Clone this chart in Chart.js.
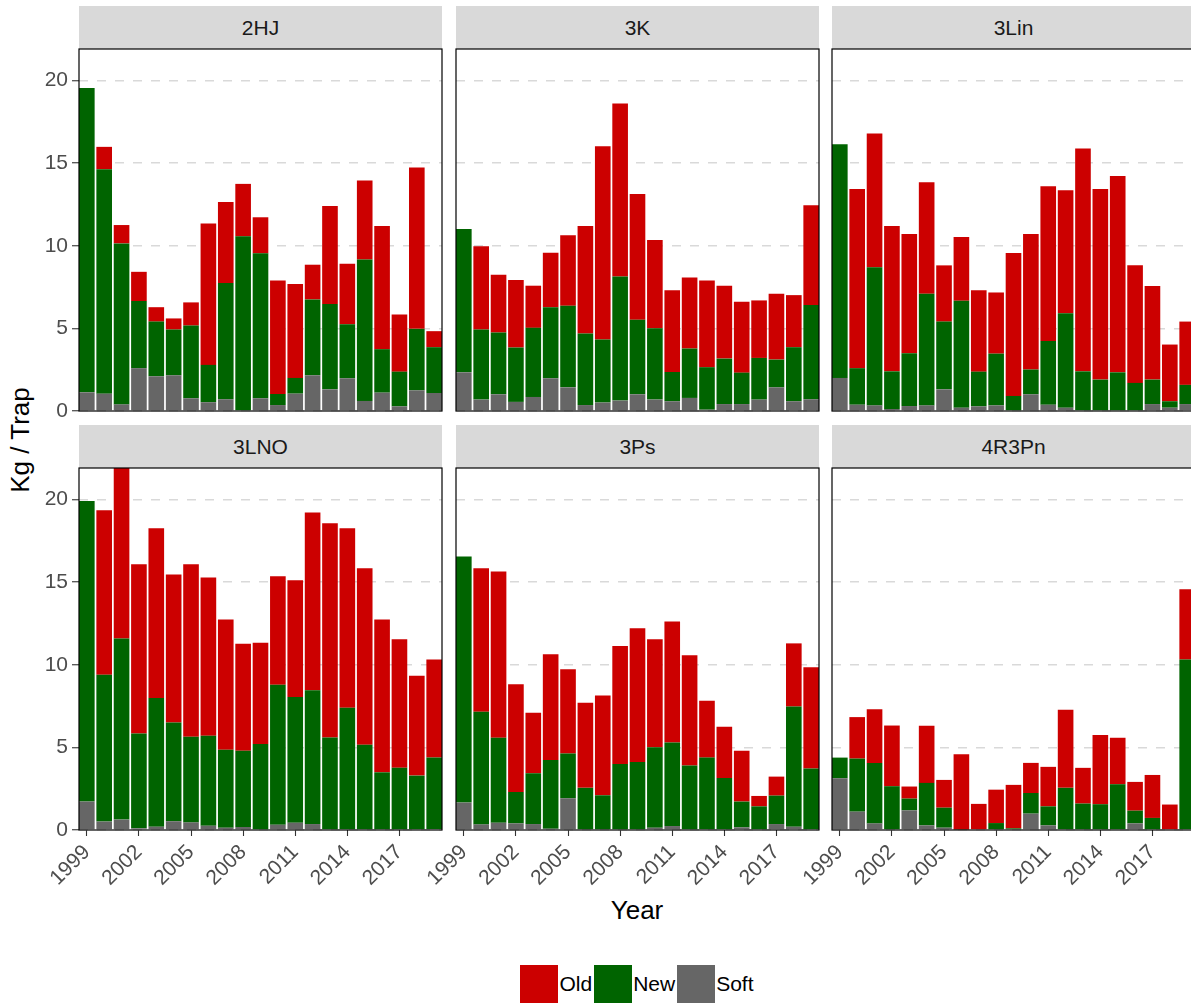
<!doctype html>
<html lang="en">
<head>
  <meta charset="utf-8">
  <title>Kg / Trap by Year</title>
  <script src="https://cdn.jsdelivr.net/npm/chart.js@4.4.1/dist/chart.umd.min.js"></script>
  <style>
    body { margin: 0; background: #fff; overflow: hidden; }
    #fig { position: relative; width: 1191px; height: 1006px; overflow: hidden;
           font-family: 'Liberation Sans', Arial, sans-serif; }
    #fig canvas { position: absolute; }
    .strip { position: absolute; background: #d9d9d9; color: #1a1a1a; font-size: 21px;
             text-align: center; line-height: 43px; }
    .ytitle { position: absolute; left: -130px; top: 424.5px; width: 300px; height: 30px;
              line-height: 30px; text-align: center; font-size: 26px; transform: rotate(-90deg); }
    .xtitle { position: absolute; left: 487px; top: 895px; width: 300px; height: 30px;
              line-height: 30px; text-align: center; font-size: 26px; }
    #legend { position: absolute; left: 80px; width: 1116px; top: 965px; height: 38px;
              display: flex; justify-content: center; align-items: center; font-size: 21px; color: #000; }
    #legend .key { width: 38px; height: 38px; margin-right: 1px; }
    #legend .lab { margin-right: 2px; }
  </style>
</head>
<body>
  <div id="fig">
    <div class="ytitle">Kg / Trap</div>
    <div class="xtitle">Year</div>
    <div id="legend"></div>
  </div>
  <script>
    // data (kg per trap, stacked Soft / New / Old)
    const years = [1999, 2000, 2001, 2002, 2003, 2004, 2005, 2006, 2007, 2008, 2009,
                   2010, 2011, 2012, 2013, 2014, 2015, 2016, 2017, 2018, 2019];
    const xTicks = [1999, 2002, 2005, 2008, 2011, 2014, 2017];
    const yTicks = [0, 5, 10, 15, 20];
    const divisions = ['2HJ', '3K', '3Lin', '3LNO', '3Ps', '4R3Pn'];

    const soft_2HJ = [1.13, 1.05, 0.40, 2.59, 2.10, 2.16, 0.77, 0.53, 0.71, 0, 0.77, 0.36, 1.05, 2.16, 1.31, 1.98, 0.61, 1.11, 0.28, 1.25, 1.09];
    const new_2HJ = [18.41, 13.58, 9.74, 4.06, 3.31, 2.77, 4.40, 2.26, 7.03, 10.57, 8.77, 0.67, 0.95, 4.59, 5.17, 3.27, 8.56, 2.63, 2.10, 3.72, 2.77];
    const old_2HJ = [0, 1.35, 1.11, 1.77, 0.87, 0.67, 1.40, 8.56, 4.91, 3.17, 2.18, 6.87, 5.68, 2.10, 5.92, 3.66, 4.77, 7.45, 3.46, 9.76, 0.97];

    const soft_3K = [2.34, 0.69, 1.01, 0.55, 0.85, 1.98, 1.43, 0.36, 0.51, 0.63, 1.01, 0.69, 0.59, 0.79, 0.08, 0.42, 0.42, 0.69, 1.43, 0.59, 0.71];
    const new_3K = [8.67, 4.24, 3.74, 3.29, 4.18, 4.30, 4.93, 4.33, 3.81, 7.51, 4.51, 4.32, 1.77, 2.99, 2.57, 2.75, 1.90, 2.52, 1.68, 3.27, 5.71];
    const old_3K = [0, 5.03, 3.49, 4.08, 2.55, 3.30, 4.27, 6.50, 11.70, 10.47, 7.61, 5.33, 4.95, 4.30, 5.25, 4.41, 4.29, 3.48, 3.98, 3.15, 6.02];

    const soft_3Lin = [2.00, 0.38, 0.34, 0.12, 0.30, 0.34, 1.31, 0.20, 0.28, 0.34, 0, 1.01, 0.38, 0.20, 0, 0, 0, 0, 0.42, 0.20, 0.42];
    const new_3Lin = [14.14, 2.21, 8.35, 2.28, 3.19, 6.75, 4.10, 6.47, 2.10, 3.13, 0.91, 1.50, 3.86, 5.72, 2.40, 1.90, 2.34, 1.70, 1.48, 0.39, 1.16];
    const old_3Lin = [0, 10.84, 8.10, 8.79, 7.22, 6.75, 3.40, 3.86, 4.93, 3.70, 8.65, 8.20, 9.36, 7.43, 13.48, 11.53, 11.88, 7.11, 5.66, 3.43, 3.83];

    const soft_3LNO = [1.72, 0.51, 0.63, 0.10, 0.20, 0.53, 0.46, 0.26, 0.14, 0.18, 0, 0.32, 0.44, 0.36, 0, 0, 0, 0, 0, 0, 0.06];
    const new_3LNO = [18.18, 8.88, 10.95, 5.74, 7.78, 5.98, 5.18, 5.44, 4.71, 4.61, 5.21, 8.47, 7.60, 8.10, 5.60, 7.39, 5.15, 3.49, 3.76, 3.29, 4.32];
    const old_3LNO = [0, 9.96, 10.32, 10.24, 10.28, 8.94, 10.44, 9.57, 7.88, 6.48, 6.12, 6.56, 7.07, 10.75, 12.95, 10.87, 10.69, 9.24, 7.78, 6.04, 5.94];

    const soft_3Ps = [1.66, 0.34, 0.44, 0.40, 0.36, 0.08, 1.92, 0, 0, 0, 0, 0.14, 0.24, 0, 0, 0, 0.16, 0, 0.36, 0.20, 0];
    const new_3Ps = [14.89, 6.81, 5.14, 1.90, 3.07, 4.16, 2.71, 2.55, 2.10, 4.00, 4.12, 4.87, 5.05, 3.90, 4.38, 3.15, 1.56, 1.43, 1.72, 7.27, 3.72];
    const old_3Ps = [0, 8.69, 10.06, 6.51, 3.66, 6.39, 5.09, 5.15, 6.04, 7.13, 8.08, 6.53, 7.32, 6.67, 3.44, 3.09, 3.07, 0.63, 1.15, 3.82, 6.12];

    const soft_4R3Pn = [3.13, 1.11, 0.40, 0, 1.19, 0.28, 0.14, 0, 0, 0, 0, 0.99, 0.28, 0, 0, 0, 0, 0.40, 0, 0, 0];
    const new_4R3Pn = [1.25, 3.21, 3.66, 2.65, 0.71, 2.57, 1.21, 0.03, 0, 0.42, 0.10, 1.25, 1.15, 2.55, 1.60, 1.56, 2.77, 0.77, 0.73, 0, 10.32];
    const old_4R3Pn = [0, 2.51, 3.25, 3.67, 0.73, 3.45, 1.68, 4.56, 1.58, 2.02, 2.63, 1.82, 2.39, 4.72, 2.16, 4.18, 2.81, 1.74, 2.60, 1.54, 4.25];

    const panelData = {
      '2HJ': { Soft: soft_2HJ, New: new_2HJ, Old: old_2HJ },
      '3K': { Soft: soft_3K, New: new_3K, Old: old_3K },
      '3Lin': { Soft: soft_3Lin, New: new_3Lin, Old: old_3Lin },
      '3LNO': { Soft: soft_3LNO, New: new_3LNO, Old: old_3LNO },
      '3Ps': { Soft: soft_3Ps, New: new_3Ps, Old: old_3Ps },
      '4R3Pn': { Soft: soft_4R3Pn, New: new_4R3Pn, Old: old_4R3Pn }
    };

    // stacking order bottom -> top, legend order
    const stackOrder = ['Soft', 'New', 'Old'];
    const legendOrder = ['Old', 'New', 'Soft'];
    const colors = { Old: '#cc0000', New: '#006400', Soft: '#666666' };

    // facet layout (px)
    const PL = [79, 456, 832];
    const PT = [49, 468];
    const PW = 363, PH = 362, AX = 79, BOT = 80, STRIP = 43;

    Chart.defaults.font.family = "'Liberation Sans', Arial, sans-serif";

    const framePlugin = {
      id: 'frame',
      afterDraw(chart) {
        const { ctx, chartArea: a } = chart;
        ctx.save();
        ctx.strokeStyle = '#000';
        ctx.lineWidth = 1.2;
        ctx.strokeRect(a.left, a.top, a.right - a.left, a.bottom - a.top);
        ctx.restore();
      }
    };

    const fig = document.getElementById('fig');

    divisions.forEach((div, i) => {
      const r = Math.floor(i / 3), c = i % 3;

      const strip = document.createElement('div');
      strip.className = 'strip';
      strip.style.left = PL[c] + 'px';
      strip.style.top = (PT[r] - STRIP) + 'px';
      strip.style.width = PW + 'px';
      strip.style.height = STRIP + 'px';
      strip.textContent = div;
      fig.appendChild(strip);

      const canvas = document.createElement('canvas');
      canvas.width = AX + PW + 4;
      canvas.height = PH + 2 + BOT;
      canvas.style.left = (PL[c] - AX) + 'px';
      canvas.style.top = (PT[r] - 2) + 'px';
      fig.appendChild(canvas);

      const datasets = stackOrder.map(name => ({
        label: name,
        data: years.map((yr, k) => ({ x: yr, y: panelData[div][name][k] })),
        backgroundColor: colors[name],
        borderWidth: 0,
        barPercentage: 0.9,
        categoryPercentage: 1
      }));

      new Chart(canvas, {
        type: 'bar',
        data: { datasets },
        options: {
          responsive: false,
          animation: false,
          layout: { padding: { left: c === 0 ? 0 : AX, top: 2, right: 4, bottom: r === 1 ? 0 : BOT } },
          plugins: { legend: { display: false }, tooltip: { enabled: false } },
          scales: {
            x: {
              type: 'linear',
              min: 1998.55,
              max: 2019.45,
              stacked: true,
              offset: false,
              display: r === 1,
              grid: { drawOnChartArea: false, offset: false, tickLength: 6, tickColor: '#333', tickWidth: 1.1 },
              border: { display: false },
              ticks: {
                autoSkip: false, minRotation: 45, maxRotation: 45, padding: 4,
                color: '#4d4d4d', font: { size: 21 },
                callback: v => String(v)
              },
              afterBuildTicks: s => { s.ticks = xTicks.map(v => ({ value: v })); },
              afterFit: s => { s.height = r === 1 ? BOT : 0; s.paddingLeft = 0; s.paddingRight = 0; }
            },
            y: {
              type: 'linear',
              min: 0,
              max: 21.9,
              stacked: true,
              grid: {
                color: '#d9d9d9', lineWidth: 1.5, drawTicks: c === 0, tickLength: 7,
                tickColor: '#333', tickWidth: 1.1, tickBorderDash: []
              },
              border: { display: false, dash: [9, 9] },
              ticks: { display: c === 0, color: '#4d4d4d', font: { size: 21 }, padding: 4 },
              afterBuildTicks: s => { s.ticks = yTicks.map(v => ({ value: v })); },
              afterFit: s => { s.width = c === 0 ? AX : 0; s.paddingTop = 0; s.paddingBottom = 0; }
            }
          }
        },
        plugins: [framePlugin]
      });
    });

    const legend = document.getElementById('legend');
    legendOrder.forEach(name => {
      const key = document.createElement('div');
      key.className = 'key';
      key.style.background = colors[name];
      const lab = document.createElement('span');
      lab.className = 'lab';
      lab.textContent = name;
      legend.appendChild(key);
      legend.appendChild(lab);
    });
  </script>
</body>
</html>
